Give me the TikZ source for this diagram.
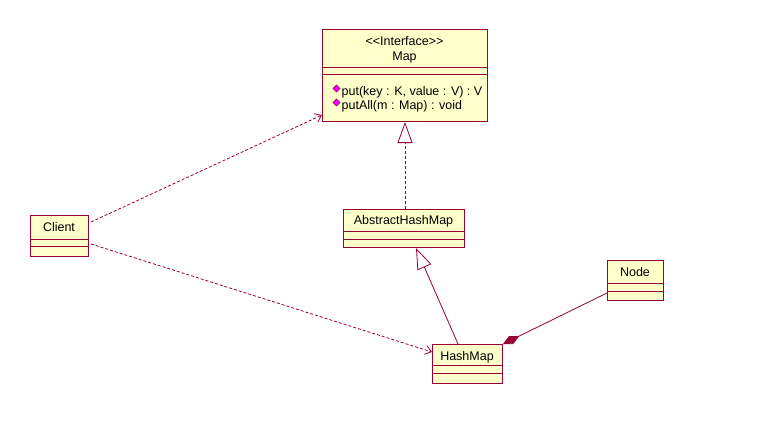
\documentclass[tikz,border=0pt]{standalone}
\usepackage{fontspec}
\setmainfont{Liberation Sans}
\usetikzlibrary{arrows.meta,calc}
\definecolor{umlred}{RGB}{153,0,51}
\definecolor{umlfill}{RGB}{255,255,204}
\definecolor{opicon}{RGB}{255,0,255}
\begin{document}
\begin{tikzpicture}[x=1pt,y=-1pt,
  classbox/.style={draw=umlred, fill=umlfill, line width=1pt, inner sep=0pt, anchor=north west},
  lbl/.style={inner sep=0pt, font=\fontsize{12.5}{14}\selectfont},
  dep/.style={draw=umlred, line width=0.8pt, dash pattern=on 3pt off 2pt, -{Straight Barb[length=6pt,width=9pt,line width=0.8pt]}},
  realize/.style={draw=umlred, line width=0.8pt, dash pattern=on 3pt off 2pt, -{Triangle[open,length=21pt,width=15pt,line width=0.8pt,fill=white]}},
  gener/.style={draw=umlred, line width=0.8pt, -{Triangle[open,length=21pt,width=15pt,line width=0.8pt,fill=white]}},
  compo/.style={draw=umlred, line width=0.8pt, {Diamond[length=18pt,width=9pt,fill=umlred]}-},
  sep/.style={draw=umlred, line width=1pt},
  opdot/.style={draw=umlred!70!black, fill=opicon, line width=0.4pt, rotate=45, minimum size=5pt, inner sep=0pt}
]
\useasboundingbox[fill=white] (0,0) rectangle (758,423);

% class boxes
\node[classbox, minimum width=165pt, minimum height=92pt] (map) at (322,29) {};
\node[classbox, minimum width=58pt, minimum height=41pt] (client) at (30,215) {};
\node[classbox, minimum width=121pt, minimum height=38pt] (ahm) at (343,209) {};
\node[classbox, minimum width=70pt, minimum height=39pt] (hashmap) at (432,344) {};
\node[classbox, minimum width=56pt, minimum height=40pt] (nodecls) at (607,260) {};

% compartments
\draw[sep] (322,67) -- (487,67) (322,74) -- (487,74);
\draw[sep] (30,239) -- (88,239) (30,246) -- (88,246);
\draw[sep] (343,231) -- (464,231) (343,239) -- (464,239);
\draw[sep] (432,365) -- (502,365) (432,373) -- (502,373);
\draw[sep] (607,283) -- (663,283) (607,291) -- (663,291);

% names
\node[lbl] (stereo) at (404.5,41) {\textless{}\textless{}Interface\textgreater{}\textgreater{}};
\node[lbl] (mapname) at (404.5,57) {Map};
\node[lbl] (clientname) at (59,227) {Client};
\node[lbl] (ahmname) at (403.5,221) {AbstractHashMap};
\node[lbl] (hashmapname) at (467,357) {HashMap};
\node[lbl] (nodename) at (635,272) {Node};

% operations
\node[opdot] (op1icon) at (336.5,88.5) {};
\node[opdot] (op2icon) at (336.5,102.5) {};
\node[lbl, anchor=west] (op1) at (341.5,92.5) {put(key : K, value : V) : V};
\node[lbl, anchor=west] (op2) at (341.5,106.5) {putAll(m : Map) : void};

% relationships
\coordinate (c1) at ($(client.north east)+(2,7)$);
\coordinate (m1) at ($(map.south west)+(0,-7)$);
\draw[dep] (c1) -- (m1);
\coordinate (c2) at ($(client.north east)+(2,29)$);
\coordinate (h1) at ($(hashmap.north west)+(0,8)$);
\draw[dep] (c2) -- (h1);
\draw[realize] (ahm.north -| map.south) -- (map.south);
\coordinate (h2) at ($(hashmap.north west)+(26,0)$);
\coordinate (a2) at ($(ahm.south west)+(73,0)$);
\draw[gener] (h2) -- (a2);
\coordinate (n1) at ($(nodecls.north west)+(0,33)$);
\draw[compo] (hashmap.north east) -- (n1);
\end{tikzpicture}
\end{document}
